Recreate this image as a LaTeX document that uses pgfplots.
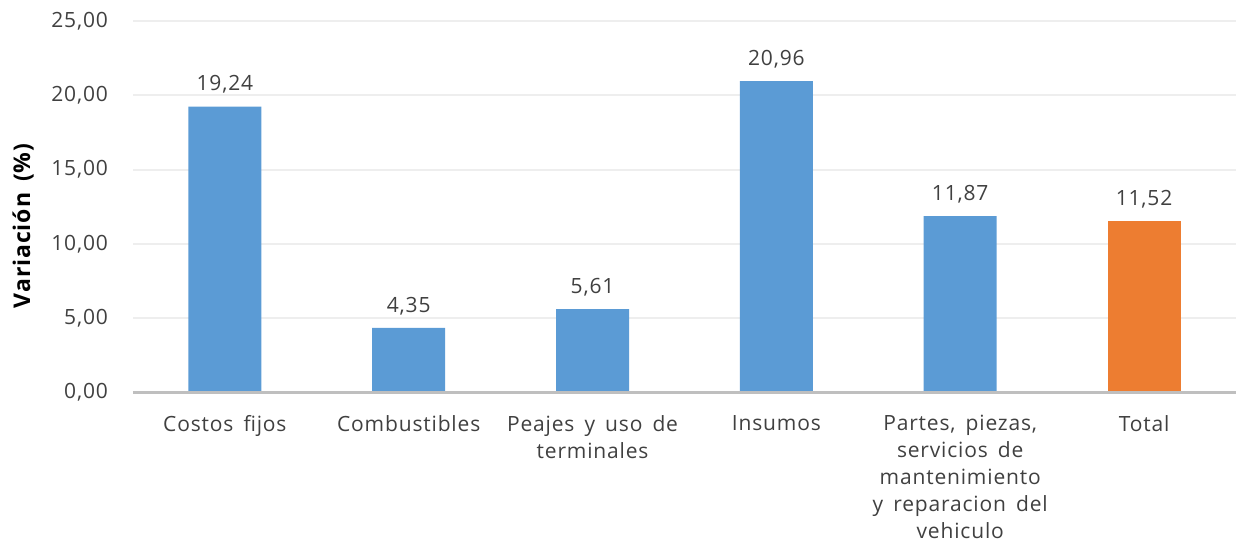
\documentclass[border=0pt]{standalone}
\usepackage{pgfplots}
\pgfplotsset{compat=1.18}
\usepackage{fontspec}
\setmainfont{Open Sans}[LetterSpace=4, WordSpace=1.6]
\definecolor{barblue}{HTML}{5B9BD5}
\definecolor{barorange}{HTML}{ED7D31}
\definecolor{txt}{HTML}{404040}
\definecolor{gridc}{HTML}{EEEEEE}
\definecolor{axc}{HTML}{BFBFBF}
\begin{document}
\begin{tikzpicture}
\useasboundingbox (-66.5pt,-78.6pt) rectangle (551.75pt,196.3pt);
\begin{axis}[
  scale only axis,
  width=551.75pt, height=185.7pt,
  xmin=-0.5, xmax=5.5, ymin=0, ymax=25,
  ybar, bar width=36.5pt,
  xtick={0,1,2,3,4,5},
  xticklabels={Costos fijos, Combustibles, Peajes y uso de\\terminales, Insumos,
    {Partes, piezas,\\servicios de\\mantenimiento\\y reparacion del\\vehiculo}, Total},
  xticklabel style={align=center, font=\fontsize{10.5}{13.5}\selectfont, text=txt, yshift=-8pt},
  ytick={0,5,10,15,20,25},
  yticklabel style={font=\fontsize{10.5}{12}\selectfont, text=txt, xshift=-9pt},
  /pgf/number format/.cd, fixed, fixed zerofill, precision=2, use comma, assume math mode=true,
  /pgfplots/.cd,
  ymajorgrids, grid style={gridc, line width=1pt},
  axis line style={draw=none},
  major tick length=0pt,
  ylabel={\textbf{Variación (\%)}},
  ylabel style={font=\fontsize{11.5}{13}\selectfont, text=black, at={(ticklabel cs:0.45)}, yshift=2pt},
  nodes near coords,
  every node near coord/.append style={font=\fontsize{10.5}{12}\selectfont, text=txt, yshift=3pt,
    /pgf/number format/.cd, fixed, fixed zerofill, precision=2, use comma, assume math mode=true},
  clip=false,
]
\addplot[fill=barblue, draw=none, bar shift=0pt] coordinates {(0,19.24) (1,4.35) (2,5.61) (3,20.96) (4,11.87)};
\addplot[fill=barorange, draw=none, bar shift=0pt] coordinates {(5,11.52)};
\draw[axc, line width=1.5pt] (rel axis cs:0,0) -- (rel axis cs:1,0);
\end{axis}
\end{tikzpicture}
\end{document}
